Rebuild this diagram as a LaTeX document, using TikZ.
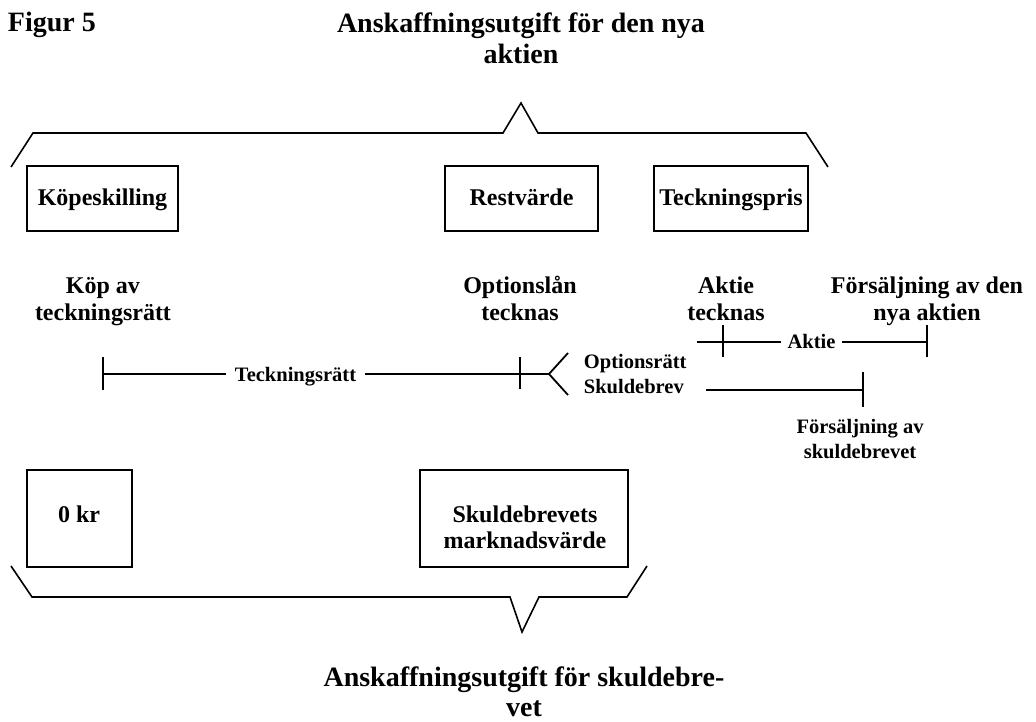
\documentclass[tikz,border=0pt]{standalone}
\usepackage{fontspec}
\setmainfont{Liberation Serif}
\begin{document}
\begin{tikzpicture}[x=1pt,y=-1pt, line width=1.8pt,
  every node/.style={inner sep=0pt},
  big/.style={font=\fontsize{28}{31.5}\selectfont\bfseries, align=center},
  lab/.style={font=\fontsize{24}{27}\selectfont\bfseries, align=center},
  small/.style={font=\fontsize{20.5}{24.5}\selectfont\bfseries},
  boxtxt/.style={font=\fontsize{24}{26}\selectfont\bfseries, align=center},
  box/.style={draw, line width=2pt, boxtxt},
  topbox/.style={box, text height=18pt, text depth=4pt, minimum height=65pt},
  brace/.style={line width=1.6pt, line join=miter}]
\useasboundingbox (0,0) rectangle (1036,722);
% titles (multi-line nodes: base = baseline of last line)
\node[big, anchor=base west] (fig) at (7,32) {Figur 5};
\node[big, anchor=base] (title) at (521,64) {Anskaffningsutgift för den nya\\aktien};
\node[big, anchor=base, font=\fontsize{28}{29.5}\selectfont\bfseries] (title2) at (524,716) {Anskaffningsutgift för skuldebre-\\vet};
% top brace
\draw[brace] (11,167) -- (33,133) -- (503,133) -- (521,103) -- (538,133) -- (806,133) -- (828,167);
% top boxes
\node[topbox, minimum width=151pt] (kop) at (102.5,198.5) {Köpeskilling};
\node[topbox, minimum width=153pt] (rest) at (521.5,199) {Restvärde};
\node[topbox, minimum width=154pt] (teck) at (731,199) {Teckningspris};
% event labels
\node[lab, anchor=base] (kopav) at (103,320) {Köp av\\teckningsrätt};
\node[lab, anchor=base] (optlan) at (520,320) {Optionslån\\tecknas};
\node[lab, anchor=base] (akttec) at (726,320) {Aktie\\tecknas};
\node[lab, anchor=base] (forsakt) at (927,320) {Försäljning av den\\nya aktien};
% timeline: teckningsrätt
\coordinate (kT) at (103,374);
\coordinate (oT) at (520,374);
\coordinate (fork) at (549,374);
\coordinate (fu) at (568,353);
\coordinate (fd) at (568,395);
\node[small, inner xsep=8pt] (tr) at (295.5,377) {Teckningsrätt};
\draw (kT) -- (kT -| tr.west);
\draw (kT -| tr.east) -- (oT);
\draw ([yshift=17pt]kT) -- ([yshift=-16pt]kT);
\draw ([yshift=17pt]oT) -- ([yshift=-15pt]oT);
\draw (oT) -- (fork) -- (fu);
\draw (fork) -- (fd);
\node[small, anchor=base west, align=left] (opt) at (583,393) {Optionsrätt\\Skuldebrev};
% skuldebrev line
\coordinate (sA) at (706,390);
\coordinate (sB) at (863,390);
\draw (sA) -- (sB);
\draw ([yshift=18pt]sB) -- ([yshift=-17pt]sB);
\node[small, anchor=base, align=center] (forssk) at (860,458) {Försäljning av\\skuldebrevet};
% aktie line
\coordinate (aS) at (697,342);
\coordinate (aT) at (723,342);
\coordinate (aE) at (927,342);
\node[small, inner xsep=5.5pt] (akt) at (811.5,341) {Aktie};
\draw (aS) -- (aS -| akt.west);
\draw (aS -| akt.east) -- (aE);
\draw ([yshift=17pt]aT) -- ([yshift=-15pt]aT);
\draw ([yshift=17pt]aE) -- ([yshift=-15pt]aE);
% bottom boxes
\node[box, minimum width=105pt, minimum height=97pt] (noll) at (79.5,518.5) {};
\node[boxtxt, anchor=base] (nolltxt) at (79,522) {0 kr};
\node[box, minimum width=208pt, minimum height=97pt] (skbox) at (524,518.5) {};
\node[boxtxt, anchor=base] (sktxt) at (525,548) {Skuldebrevets\\marknadsvärde};
% bottom brace
\draw[brace] (11,566) -- (32,597) -- (510,597) -- (522,632) -- (539,597) -- (627,597) -- (647,566);
\end{tikzpicture}
\end{document}
